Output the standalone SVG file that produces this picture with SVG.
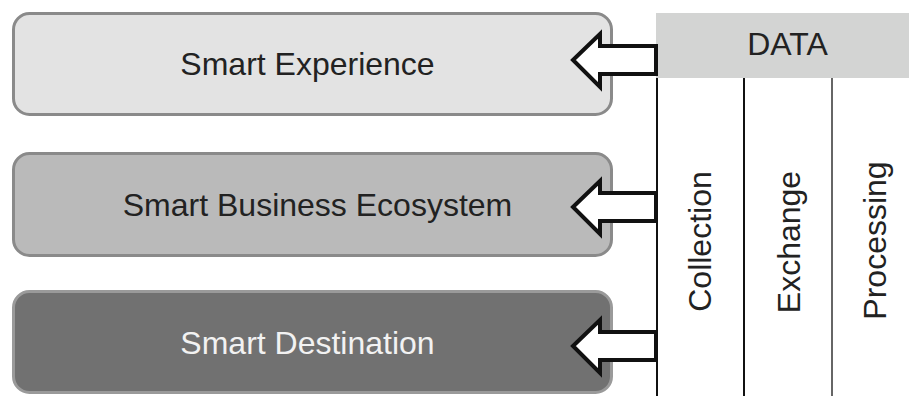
<svg xmlns="http://www.w3.org/2000/svg" width="909" height="396" viewBox="0 0 909 396">
<style>
.box{stroke-width:3}
.lbl{font-family:"Liberation Sans",Arial,sans-serif;font-size:32px;text-anchor:middle;fill:#222}
.arr{fill:#fff;stroke:#111;stroke-width:4;stroke-linejoin:miter}
.col{stroke-width:2}
</style>
<rect width="909" height="396" fill="#fff"/>
<g id="smart-experience">
<rect class="box" x="13.5" y="13.5" width="598" height="101" rx="16" fill="#e3e3e3" stroke="#8a8a8a"/>
<text class="lbl" x="307.5" y="75">Smart Experience</text>
</g>
<g id="smart-business-ecosystem">
<rect class="box" x="13.5" y="153.5" width="598" height="102" rx="16" fill="#bababa" stroke="#8a8a8a"/>
<text class="lbl" x="317.5" y="216">Smart Business Ecosystem</text>
</g>
<g id="smart-destination">
<rect class="box" x="13.5" y="291.5" width="598" height="101" rx="16" fill="#717171" stroke="#9a9a9a"/>
<text class="lbl" x="307.5" y="354" fill="#f2f2f2" style="fill:#f2f2f2">Smart Destination</text>
</g>
<g id="data">
<rect x="656" y="13" width="253" height="65" fill="#d3d4d3"/>
<text class="lbl" x="787.5" y="55">DATA</text>
<line class="col" x1="657" y1="78" x2="657" y2="396" stroke="#111"/>
<line class="col" x1="744" y1="78" x2="744" y2="396" stroke="#111"/>
<line class="col" x1="832" y1="78" x2="832" y2="396" stroke="#666"/>
<text class="lbl" transform="translate(711,241.5) rotate(-90)">Collection</text>
<text class="lbl" transform="translate(800,242) rotate(-90)">Exchange</text>
<text class="lbl" transform="translate(886,240.5) rotate(-90)">Processing</text>
</g>
<g id="connectors">
<polygon class="arr" points="573,60 600,34 600,46 656,46 656,74 600,74 600,87"/>
<polygon class="arr" points="573,207 600,181 600,193 656,193 656,221 600,221 600,234"/>
<polygon class="arr" points="573,346 600,320 600,332 656,332 656,360 600,360 600,373"/>
</g>
</svg>
